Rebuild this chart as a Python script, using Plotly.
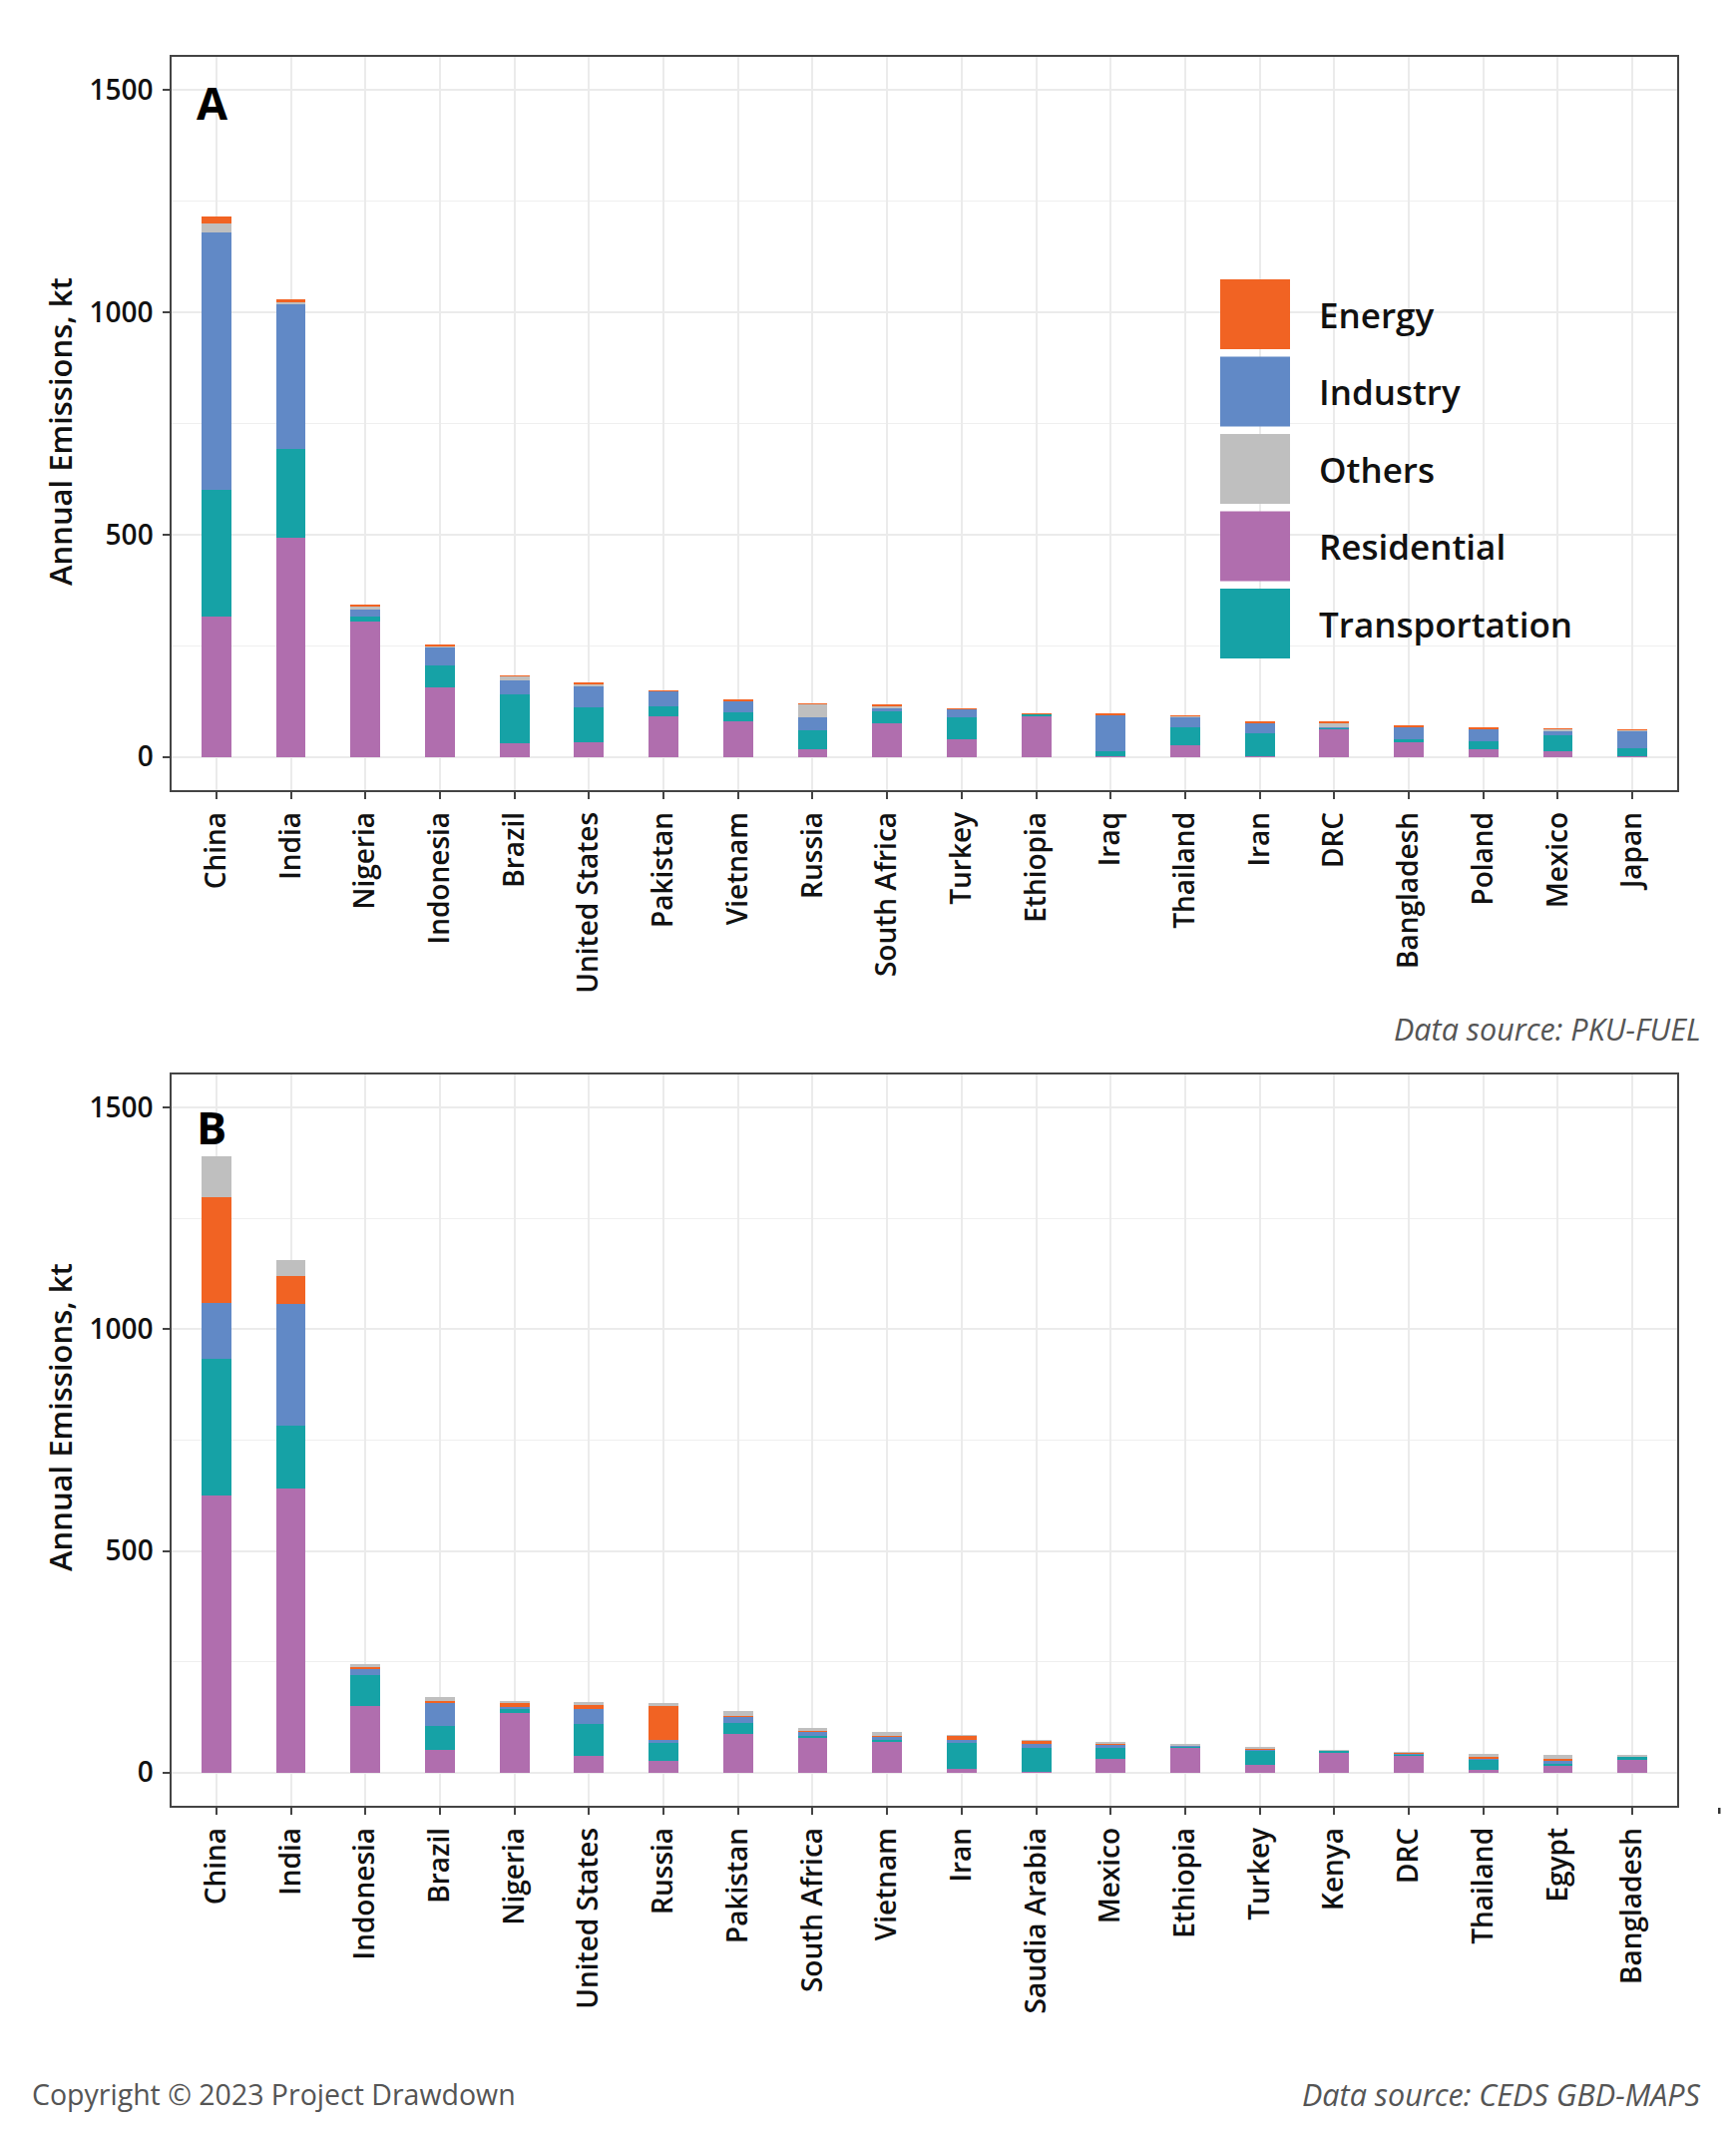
import plotly.graph_objects as go

W, H = 1740, 2139
FONT = "Open Sans"
WEIGHT = 600

# ---------------- data ----------------
sectors = ["Energy", "Industry", "Others", "Residential", "Transportation"]
colors = {"Energy": "#F16323", "Industry": "#6189C6", "Others": "#BFBFBF",
          "Residential": "#B06EAE", "Transportation": "#16A2A6"}

countries_a = ["China", "India", "Nigeria", "Indonesia", "Brazil", "United States", "Pakistan",
               "Vietnam", "Russia", "South Africa", "Turkey", "Ethiopia", "Iraq", "Thailand",
               "Iran", "DRC", "Bangladesh", "Poland", "Mexico", "Japan"]
residential_a = [315, 494, 305, 156, 30, 33, 92, 80, 18, 76, 40, 92, 0.5, 25, 1.5, 62, 32, 16, 12, 1.5]
transport_a = [286, 199, 10, 50, 110, 78, 22, 19, 42, 26, 50, 4, 11.5, 41, 51.5, 3, 7, 19, 36, 17]
industry_a = [578, 325, 16, 42, 31, 48, 34, 27, 28, 9, 17, 0.5, 82, 23, 23, 0.5, 28, 27, 10, 41]
others_a = [22, 5, 9, 1.5, 10, 4, 1, 1, 31, 3, 1, 0.5, 0.5, 3, 0.5, 12, 1, 1, 4, 0.5]
energy_a = [14, 6, 0.5, 2, 0.3, 4, 0.3, 0.3, 1, 2, 0.3, 0.3, 2, 0.3, 2, 0.3, 1, 1.5, 0.5, 0.3]

countries_b = ["China", "India", "Indonesia", "Brazil", "Nigeria", "United States", "Russia",
               "Pakistan", "South Africa", "Vietnam", "Iran", "Saudia Arabia", "Mexico", "Ethiopia",
               "Turkey", "Kenya", "DRC", "Thailand", "Egypt", "Bangladesh"]
residential_b = [625, 640, 151, 51, 134, 37, 27, 87, 78, 69, 7.5, 0.5, 31.5, 57, 17, 46, 38, 5, 14, 28.5]
transport_b = [308, 142, 70, 55, 9, 73, 40, 25, 5, 5, 59, 55, 25, 3, 33, 4, 1, 24, 6, 7.5]
industry_b = [127, 276, 12, 50, 5, 34, 7.5, 15, 9, 7, 6, 8, 6, 2, 1.5, 0.3, 5, 3, 8, 1]
energy_b = [239, 62, 5, 6, 9.5, 9, 76.5, 1.5, 4, 0.5, 10.5, 8, 3, 0.3, 3, 0.2, 0.3, 3, 2, 0.3]
others_b = [92, 37, 6.5, 7.5, 4.5, 6, 6, 10.5, 4, 10, 0.5, 1, 4, 0.5, 2, 0.5, 2, 7, 10, 3.5]

y_ticks = [0, 500, 1000, 1500]

# ---------------- figure ----------------
fig = go.Figure()

stack_a = [("Residential", residential_a), ("Transportation", transport_a),
           ("Industry", industry_a), ("Others", others_a), ("Energy", energy_a)]
stack_b = [("Residential", residential_b), ("Transportation", transport_b),
           ("Industry", industry_b), ("Energy", energy_b), ("Others", others_b)]

for name, vals in stack_a:
    fig.add_trace(go.Bar(x=countries_a, y=vals, name=name, marker_color=colors[name],
                         marker_line_width=0, width=0.4, xaxis="x", yaxis="y",
                         showlegend=False))
for name, vals in stack_b:
    fig.add_trace(go.Bar(x=countries_b, y=vals, name=name, marker_color=colors[name],
                         marker_line_width=0, width=0.4, xaxis="x2", yaxis="y2",
                         showlegend=False))

def px_x(x):
    return x / W

def px_y(y):
    return 1 - y / H

x_dom = [px_x(172), px_x(1681)]
ya_dom = [px_y(792), px_y(57)]
yb_dom = [px_y(1810), px_y(1077)]

tick_font = dict(family=FONT, size=28, color="#111111", weight=WEIGHT)
axis_common = dict(showline=True, mirror=True, linecolor="#444444", linewidth=1.5,
                   ticks="outside", ticklen=7, tickcolor="#444444", tickwidth=1.5,
                   showgrid=True, gridcolor="#EBEBEB", zeroline=False, tickfont=tick_font)

xaxis_common = dict(axis_common, gridwidth=2, tickangle=-90, range=[-0.6, 19.6],
                    type="category", ticklabelstandoff=2)
yaxis_common = dict(axis_common, gridwidth=2, range=[-75, 1575], tickvals=y_ticks,
                    minor=dict(tickvals=[250, 750, 1250], showgrid=True,
                               gridcolor="#EFEFEF", gridwidth=1, ticks=""),
                    ticklabelstandoff=4)

fig.update_layout(
    width=W, height=H, autosize=False,
    margin=dict(l=0, r=0, t=0, b=0),
    paper_bgcolor="white", plot_bgcolor="white",
    barmode="stack", bargap=0.6,
    showlegend=False,
    font=dict(family=FONT, color="#111111"),
    xaxis=dict(xaxis_common, domain=x_dom, anchor="y"),
    yaxis=dict(yaxis_common, domain=ya_dom, anchor="x"),
    xaxis2=dict(xaxis_common, domain=x_dom, anchor="y2"),
    yaxis2=dict(yaxis_common, domain=yb_dom, anchor="x2"),
)

# ---------------- custom legend (panel A) ----------------
shapes = []
annotations = []
leg_top = 280
leg_step = 77.5
sw = 70
for i, name in enumerate(sectors):
    y0 = leg_top + i * leg_step
    shapes.append(dict(type="rect", xref="paper", yref="paper",
                       x0=px_x(1223), x1=px_x(1223 + sw), y0=px_y(y0 + sw), y1=px_y(y0),
                       fillcolor=colors[name], line=dict(width=0), layer="above"))
    annotations.append(dict(text=name, xref="paper", yref="paper", x=px_x(1320),
                            y=px_y(y0 + sw / 2), xanchor="left", yanchor="middle",
                            showarrow=False,
                            font=dict(family=FONT, size=35, color="#111111", weight=WEIGHT)))

# small stray mark at right of panel B (as in the original image)
shapes.append(dict(type="rect", xref="paper", yref="paper",
                   x0=px_x(1722), x1=px_x(1724.5), y0=px_y(1818), y1=px_y(1812),
                   fillcolor="#333333", line=dict(width=0)))

# y-axis titles
for yc in (433, 1421):
    annotations.append(dict(text="Annual Emissions, kt", xref="paper", yref="paper",
                            x=px_x(60), y=px_y(yc), xanchor="center", yanchor="middle",
                            textangle=-90, showarrow=False,
                            font=dict(family=FONT, size=31, color="#111111", weight=WEIGHT)))

# panel letters
annotations.append(dict(text="<b>A</b>", xref="paper", yref="paper", x=px_x(195), y=px_y(102),
                        xanchor="left", yanchor="middle", showarrow=False,
                        font=dict(family=FONT, size=45, color="#000000")))
annotations.append(dict(text="<b>B</b>", xref="paper", yref="paper", x=px_x(195), y=px_y(1129),
                        xanchor="left", yanchor="middle", showarrow=False,
                        font=dict(family=FONT, size=45, color="#000000")))

# captions
annotations.append(dict(text="<i>Data source: PKU-FUEL</i>", xref="paper", yref="paper",
                        x=px_x(1707), y=px_y(1031), xanchor="right", yanchor="middle",
                        showarrow=False, font=dict(family=FONT, size=30.5, color="#555555")))
annotations.append(dict(text="<i>Data source: CEDS GBD-MAPS</i>", xref="paper", yref="paper",
                        x=px_x(1707), y=px_y(2099), xanchor="right", yanchor="middle",
                        showarrow=False, font=dict(family=FONT, size=30.5, color="#555555")))
annotations.append(dict(text="Copyright © 2023 Project Drawdown", xref="paper", yref="paper",
                        x=px_x(30), y=px_y(2099), xanchor="left", yanchor="middle",
                        showarrow=False, font=dict(family=FONT, size=28.5, color="#555555")))

fig.update_layout(shapes=shapes, annotations=annotations)

fig.write_html("out.html", config={"displayModeBar": False},
               post_script="document.body.style.margin='0px';document.body.style.padding='0px';")
